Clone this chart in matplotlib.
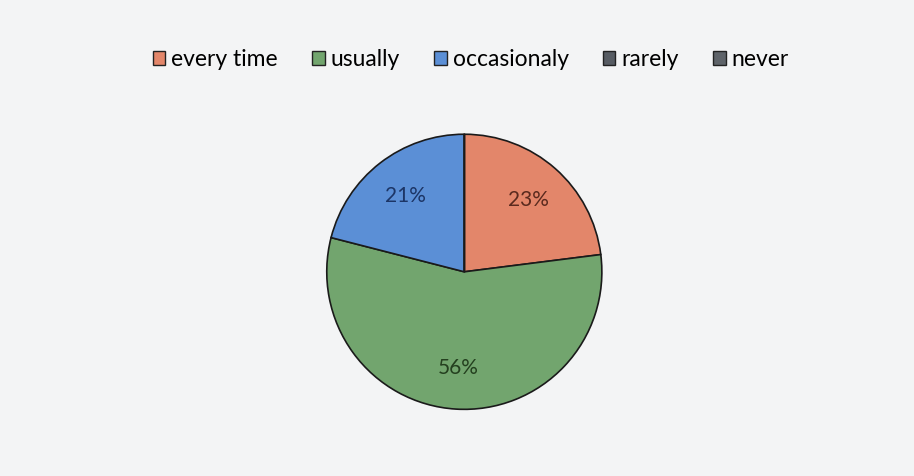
import matplotlib
matplotlib.use("Agg")
import matplotlib.pyplot as plt
from matplotlib.patches import Patch

labels = ['every time', 'usually', 'occasionaly', 'rarely', 'never']
values = [23, 56, 21, 0, 0]
colors = ['#E3866A', '#72A56E', '#5B8FD6', '#575C63', '#5E6369']
pct_colors = ['#5a2a1e', '#24401f', '#1c3566', '#222', '#222']

plt.rcParams['font.family'] = ['Lato', 'DejaVu Sans']

fig = plt.figure(figsize=(9.14, 4.76), dpi=100, facecolor='#f3f4f5')
ax = fig.add_axes([0.356, 0.137, 0.304, 0.584])

def fmt(p):
    return '%d%%' % round(p) if p > 0.5 else ''

wedges, texts, autotexts = ax.pie(values, colors=colors, startangle=90, counterclock=False,
                                  autopct=fmt, pctdistance=0.7,
                                  wedgeprops=dict(edgecolor='#1a1a1a', linewidth=1.2),
                                  textprops=dict(fontsize=15))
for t, c in zip(autotexts, pct_colors):
    t.set_color(c)
ax.set_xlim(-1.01, 1.01)
ax.set_ylim(-1.01, 1.01)
ax.set_aspect('equal')

handles = [Patch(facecolor=c, edgecolor='#222', linewidth=1) for c in colors]
fig.legend(handles, labels, loc='center', bbox_to_anchor=(0.515, 0.875), ncol=5, frameon=False,
           fontsize=16.5, handlelength=0.55, handleheight=0.55, handletextpad=0.25, columnspacing=1.5)

fig.savefig('out.png', dpi=100, facecolor=fig.get_facecolor())
